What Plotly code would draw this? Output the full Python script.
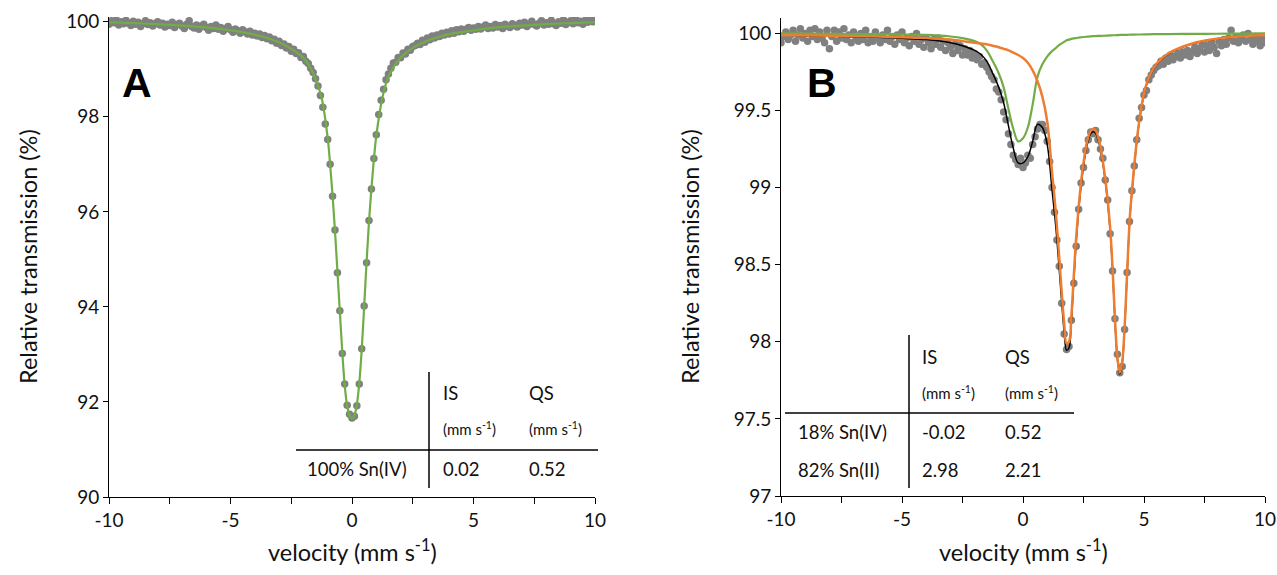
import plotly.graph_objects as go

W, H = 1277, 575

# ---------------- DATA ----------------
# Panel A : measured spectrum (velocity grid step 0.1 mm/s from -10 to 10)
vel_a = [round(-10 + 0.1 * i, 1) for i in range(201)]
trans_a = [
    99.95, 100.02, 99.98, 100.04, 99.93, 100.00, 99.96, 100.03, 99.97, 99.92,
    100.01, 99.95, 99.99, 99.90, 99.96, 100.02, 99.94, 99.98, 99.91, 99.96,
    100.00, 99.93, 99.97, 99.89, 99.95, 99.92, 99.99, 99.88, 99.94, 99.97,
    99.91, 99.86, 99.95, 100.02, 99.90, 99.87, 99.93, 99.84, 99.91, 99.95,
    99.88, 99.82, 99.90, 99.86, 99.93, 99.84, 99.88, 99.80, 99.86, 99.90,
    99.83, 99.78, 99.85, 99.81, 99.76, 99.83, 99.79, 99.74, 99.80, 99.72,
    99.76, 99.70, 99.74, 99.67, 99.71, 99.64, 99.68, 99.60, 99.63, 99.55,
    99.59, 99.50, 99.53, 99.45, 99.48, 99.38, 99.42, 99.33, 99.35, 99.25,
    99.27, 99.17, 99.12, 99.02, 98.93, 98.80, 98.65, 98.45, 98.20, 97.85,
    97.52, 97.00, 96.33, 95.62, 94.72, 93.92, 93.02, 92.38, 91.93, 91.74,
    91.66, 91.70, 91.92, 92.38, 93.12, 94.02, 94.93, 95.82, 96.48, 97.12,
    97.62, 98.05, 98.35, 98.58, 98.78, 98.90, 99.02, 99.13, 99.15, 99.25,
    99.24, 99.34, 99.32, 99.42, 99.40, 99.48, 99.50, 99.55, 99.52, 99.61,
    99.57, 99.66, 99.62, 99.70, 99.66, 99.72, 99.69, 99.76, 99.72, 99.78,
    99.74, 99.81, 99.76, 99.83, 99.79, 99.85, 99.80, 99.84, 99.88, 99.82,
    99.87, 99.84, 99.90, 99.85, 99.89, 99.93, 99.86, 99.90, 99.87, 99.94,
    99.89, 99.92, 99.86, 99.95, 99.91, 99.88, 99.96, 99.92, 99.89, 99.97,
    99.93, 99.99, 99.90, 99.95, 100.01, 99.94, 99.91, 99.97, 100.02, 99.93,
    99.98, 99.95, 100.03, 99.96, 99.92, 100.00, 99.97, 100.04, 99.94, 99.99,
    100.02, 99.96, 100.05, 99.98, 100.01, 99.95, 100.03, 99.99, 100.06, 100.00,
    100.08,
]

# Panel A : fitted Sn(IV) doublet
fit_vel_a = [-10, -9, -8, -7, -6, -5, -4, -3.5, -3, -2.5, -2, -1.75, -1.5, -1.25,
             -1.0, -0.9, -0.8, -0.7, -0.6, -0.5, -0.4, -0.3, -0.2, -0.1, 0.0,
             0.1, 0.2, 0.3, 0.4, 0.5, 0.6, 0.7, 0.8, 0.9, 1.0, 1.25, 1.5, 1.75,
             2, 2.5, 3, 3.5, 4, 5, 6, 7, 8, 9, 10]
fit_a = [99.99, 99.97, 99.95, 99.92, 99.88, 99.82, 99.73, 99.66, 99.57, 99.43,
         99.24, 99.07, 98.80, 98.40, 97.55, 97.00, 96.35, 95.60, 94.75, 93.90,
         93.05, 92.35, 91.92, 91.72, 91.65, 91.72, 91.95, 92.40, 93.10, 94.00,
         94.95, 95.80, 96.50, 97.10, 97.60, 98.40, 98.85, 99.08, 99.25, 99.45,
         99.58, 99.67, 99.74, 99.82, 99.88, 99.92, 99.95, 99.97, 99.99]

# Panel B : measured spectrum
vel_b = [round(-10 + 0.1 * i, 1) for i in range(201)]
trans_b = [
    99.94, 99.98, 100.01, 99.96, 99.99, 100.02, 99.95, 99.99, 100.03, 99.97,
    100.00, 99.95, 100.02, 99.98, 100.03, 99.96, 100.01, 99.97, 99.94, 100.02,
    99.90, 99.98, 100.02, 99.95, 100.01, 99.97, 100.03, 99.96, 99.99, 99.94,
    100.01, 99.97, 99.95, 100.00, 99.96, 100.02, 99.94, 99.98, 99.95, 100.01,
    99.97, 99.94, 99.99, 99.96, 100.02, 99.95, 99.98, 99.93, 99.99, 99.96,
    100.01, 99.94, 99.97, 99.92, 99.98, 99.95, 100.00, 99.93, 99.96, 99.91,
    99.97, 99.94, 99.90, 99.96, 99.93, 99.97, 99.91, 99.95, 99.89, 99.94,
    99.91, 99.87, 99.93, 99.89, 99.92, 99.86, 99.90, 99.86, 99.89, 99.84,
    99.87, 99.83, 99.85, 99.80, 99.81, 99.78, 99.75, 99.72, 99.70, 99.64,
    99.62, 99.57, 99.49, 99.44, 99.35, 99.28, 99.21, 99.18, 99.15, 99.19,
    99.13, 99.16, 99.21, 99.19, 99.28, 99.33, 99.38, 99.41, 99.41, 99.37,
    99.30, 99.17, 99.00, 98.84, 98.66, 98.49, 98.25, 98.05, 97.95, 97.97,
    98.14, 98.38, 98.62, 98.86, 99.03, 99.13, 99.24, 99.31, 99.36, 99.35,
    99.37, 99.31, 99.25, 99.19, 99.05, 98.92, 98.70, 98.46, 98.15, 97.92,
    97.80, 97.84, 98.08, 98.45, 98.78, 98.98, 99.14, 99.31, 99.45, 99.52,
    99.60, 99.63, 99.70, 99.73, 99.76, 99.78, 99.79, 99.82, 99.80, 99.84,
    99.82, 99.86, 99.83, 99.85, 99.87, 99.84, 99.88, 99.86, 99.89, 99.85,
    99.88, 99.91, 99.87, 99.90, 99.93, 99.88, 99.92, 99.89, 99.94, 99.91,
    99.87, 99.95, 99.92, 99.96, 99.93, 99.97, 100.02, 99.95, 99.98, 99.94,
    99.97, 99.99, 99.95, 100.00, 99.96, 99.93, 99.98, 99.95, 99.92, 99.97,
    99.94,
]

# Panel B : fitted components
fit_vel_b = [-10, -8, -6, -5, -4, -3, -2.5, -2, -1.75, -1.5, -1.25, -1, -0.8, -0.6,
             -0.4, -0.2, 0, 0.2, 0.4, 0.6, 0.8, 1.0, 1.2, 1.35, 1.5, 1.6, 1.7, 1.8,
             1.9, 2.0, 2.1, 2.2, 2.35, 2.5, 2.65, 2.8, 2.9, 3.0, 3.15, 3.3, 3.45,
             3.6, 3.7, 3.8, 3.9, 4.0, 4.1, 4.2, 4.3, 4.42, 4.56, 4.72, 4.9, 5.1,
             5.5, 6, 7, 8, 9, 10]
fit_sn4_b = [100.00, 99.997, 99.995, 99.993, 99.99, 99.98, 99.97, 99.95, 99.93, 99.89,
             99.82, 99.74, 99.65, 99.51, 99.38, 99.30, 99.32, 99.39, 99.54, 99.72,
             99.80, 99.85, 99.885, 99.905, 99.925, 99.935, 99.945, 99.955, 99.96, 99.965,
             99.968, 99.97, 99.974, 99.977, 99.979, 99.981, 99.982, 99.983, 99.984, 99.985,
             99.986, 99.987, 99.988, 99.988, 99.989, 99.99, 99.99, 99.991, 99.991, 99.992,
             99.992, 99.993, 99.993, 99.994, 99.995, 99.996, 99.997, 99.998, 99.999, 100.00]
fit_sn2_b = [99.99, 99.985, 99.98, 99.975, 99.97, 99.96, 99.95, 99.94, 99.935, 99.93,
             99.92, 99.91, 99.90, 99.89, 99.875, 99.86, 99.84, 99.81, 99.76, 99.69,
             99.59, 99.43, 99.10, 98.85, 98.54, 98.32, 98.12, 97.99, 98.00, 98.17,
             98.43, 98.68, 98.96, 99.16, 99.30, 99.37, 99.38, 99.37, 99.30, 99.17,
             98.99, 98.74, 98.48, 98.15, 97.90, 97.80, 97.87, 98.10, 98.44, 98.82,
             99.08, 99.33, 99.53, 99.67, 99.80, 99.87, 99.935, 99.965, 99.98, 99.99]
fit_total_b = [99.99, 99.982, 99.975, 99.968, 99.96, 99.94, 99.92, 99.89, 99.865, 99.82,
               99.74, 99.65, 99.55, 99.40, 99.255, 99.16, 99.16, 99.20, 99.30, 99.41,
               99.39, 99.28, 98.985, 98.755, 98.465, 98.255, 98.065, 97.945, 97.96, 98.135,
               98.398, 98.65, 98.934, 99.137, 99.279, 99.351, 99.362, 99.353, 99.284, 99.155,
               98.976, 98.727, 98.468, 98.138, 97.889, 97.79, 97.86, 98.091, 98.431, 98.812,
               99.072, 99.323, 99.523, 99.664, 99.795, 99.866, 99.932, 99.963, 99.979, 99.99]

# tick labels
x_ticks = [-10, -5, 0, 5, 10]
x_tick_text = ["-10", "-5", "0", "5", "10"]
ya_ticks = [90, 92, 94, 96, 98, 100]
ya_tick_text = ["90", "92", "94", "96", "98", "100"]
yb_ticks = [97, 97.5, 98, 98.5, 99, 99.5, 100]
yb_tick_text = ["97", "97.5", "98", "98.5", "99", "99.5", "100"]

# tables
table_a_rows = [["100% Sn(IV)", "0.02", "0.52"]]
table_b_rows = [["18% Sn(IV)", "-0.02", "0.52"], ["82% Sn(II)", "2.98", "2.21"]]

# ---------------- STYLE ----------------
FONT = "Lato"
GREEN = "#70AD47"
ORANGE = "#ED7D31"
DOT = "#808080"
TXT = "#111111"


def px(x):
    return x / W


def py(y):
    return 1 - y / H


fig = go.Figure()

fig.add_trace(go.Scatter(x=vel_a, y=trans_a, mode="markers",
                         marker=dict(color=DOT, size=7.5), xaxis="x", yaxis="y",
                         showlegend=False))
fig.add_trace(go.Scatter(x=fit_vel_a, y=fit_a, mode="lines", line=dict(color=GREEN, width=2.2, shape="spline"),
                         xaxis="x", yaxis="y", showlegend=False))

fig.add_trace(go.Scatter(x=vel_b, y=trans_b, mode="markers",
                         marker=dict(color=DOT, size=7.5), xaxis="x2", yaxis="y2",
                         showlegend=False))
fig.add_trace(go.Scatter(x=fit_vel_b, y=fit_total_b, mode="lines", line=dict(color="black", width=1.5, shape="spline"),
                         xaxis="x2", yaxis="y2", showlegend=False))
fig.add_trace(go.Scatter(x=fit_vel_b, y=fit_sn4_b, mode="lines", line=dict(color=GREEN, width=2.2, shape="spline"),
                         xaxis="x2", yaxis="y2", showlegend=False))
fig.add_trace(go.Scatter(x=fit_vel_b, y=fit_sn2_b, mode="lines", line=dict(color=ORANGE, width=2.5, shape="spline"),
                         xaxis="x2", yaxis="y2", showlegend=False))

xcommon = dict(range=[-10, 10], tickvals=x_ticks, ticktext=x_tick_text, ticks="outside",
               ticklen=6, tickcolor="black", showline=True, linecolor="black", linewidth=1,
               showgrid=False, zeroline=False, automargin=False,
               tickfont=dict(family=FONT, size=19, color=TXT),
               minor=dict(dtick=2.5, tick0=0, ticks="outside", ticklen=6, tickcolor="black", showgrid=False))
ycommon = dict(ticks="outside", ticklen=5, tickcolor="black", showline=True, linecolor="black",
               linewidth=1, showgrid=False, zeroline=False, automargin=False,
               tickfont=dict(family=FONT, size=19, color=TXT))

fig.update_layout(
    template="none",
    width=W, height=H,
    margin=dict(l=0, r=0, t=0, b=0),
    paper_bgcolor="white", plot_bgcolor="white",
    showlegend=False,
    xaxis=dict(domain=[px(109), px(595)], anchor="y", **xcommon),
    yaxis=dict(domain=[py(497), py(17)], anchor="x", range=[90, 100.1],
               tickvals=ya_ticks, ticktext=ya_tick_text, **ycommon),
    xaxis2=dict(domain=[px(781), px(1265)], anchor="y2", **xcommon),
    yaxis2=dict(domain=[py(496), py(18)], anchor="x2", range=[97, 100.1],
                tickvals=yb_ticks, ticktext=yb_tick_text, **ycommon),
)

ann = []


def text(x, y, s, size, xanchor="left", bold=False, angle=0):
    ann.append(dict(x=px(x), y=py(y), xref="paper", yref="paper", text=("<b>%s</b>" % s) if bold else s,
                    showarrow=False, xanchor=xanchor, yanchor="middle", textangle=angle,
                    font=dict(family=FONT, size=size, color=TXT)))


# axis titles
for cx in (352, 1023):
    text(cx, 550, "velocity (mm s<sup>-1</sup>)", 23.5, xanchor="center")
text(28, 257, "Relative transmission (%)", 23.5, xanchor="center", angle=-90)
text(690, 257, "Relative transmission (%)", 23.5, xanchor="center", angle=-90)

# panel letters
ann.append(dict(x=px(137), y=py(83), xref="paper", yref="paper", text="<b>A</b>", showarrow=False,
                xanchor="center", yanchor="middle", font=dict(family="Liberation Sans", size=41, color="black")))
ann.append(dict(x=px(822), y=py(83), xref="paper", yref="paper", text="<b>B</b>", showarrow=False,
                xanchor="center", yanchor="middle", font=dict(family="Liberation Sans", size=41, color="black")))

# table A
text(441, 393, "IS", 18.5)
text(527, 393, "QS", 18.5)
text(441, 428, "(mm s<sup>-1</sup>)", 15)
text(527, 428, "(mm s<sup>-1</sup>)", 15)
for i, row in enumerate(table_a_rows):
    yy = 469 + 38 * i
    text(357, yy, row[0], 18.5, xanchor="center")
    text(441, yy, row[1], 18.5)
    text(527, yy, row[2], 18.5)

# table B
text(920, 357, "IS", 18.5)
text(1003, 357, "QS", 18.5)
text(920, 392, "(mm s<sup>-1</sup>)", 15)
text(1003, 392, "(mm s<sup>-1</sup>)", 15)
for i, row in enumerate(table_b_rows):
    yy = 432 + 38 * i
    text(796, yy, row[0], 18.5)
    text(920, yy, row[1], 18.5)
    text(1003, yy, row[2], 18.5)

fig.update_layout(annotations=ann)

shapes = [
    dict(type="line", xref="paper", yref="paper", x0=px(429), x1=px(429), y0=py(372), y1=py(488),
         line=dict(color="black", width=1.5)),
    dict(type="line", xref="paper", yref="paper", x0=px(296), x1=px(598), y0=py(450), y1=py(450),
         line=dict(color="black", width=1.5)),
    dict(type="line", xref="paper", yref="paper", x0=px(909), x1=px(909), y0=py(335), y1=py(488),
         line=dict(color="black", width=1.5)),
    dict(type="line", xref="paper", yref="paper", x0=px(785), x1=px(1074), y0=py(413), y1=py(413),
         line=dict(color="black", width=1.5)),
]
fig.update_layout(shapes=shapes)

fig.write_html("out.html")
